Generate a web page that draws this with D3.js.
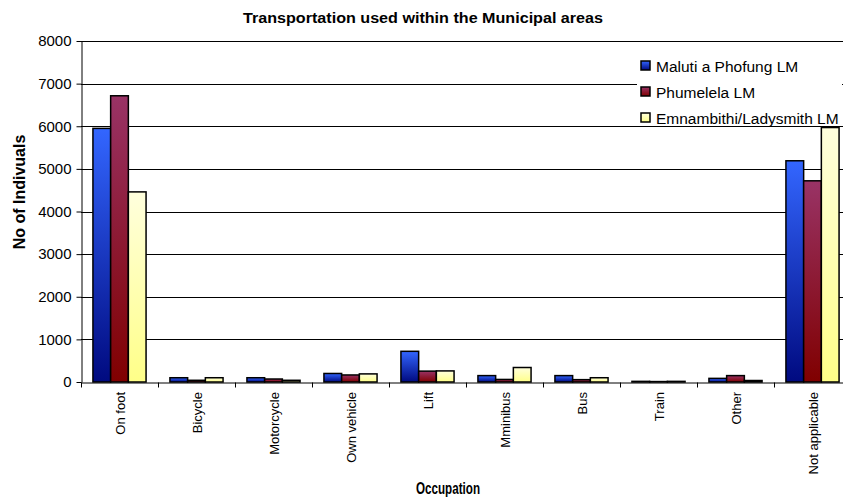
<!DOCTYPE html>
<html>
<head>
<meta charset="utf-8">
<script src="https://cdn.jsdelivr.net/npm/d3@7"></script>
<style>
  html, body { margin: 0; padding: 0; background: #fff; }
  svg { display: block; font-family: Arial, "Liberation Sans", sans-serif; }
</style>
</head>
<body>
<svg id="chart" width="843" height="501"></svg>
<script>
// Modes of transport used within each municipal area
const categories = ["On foot", "Bicycle", "Motorcycle", "Own vehicle", "Lift",
                    "Mminibus", "Bus", "Train", "Other", "Not applicable"];
const seriesNames = ["Maluti a Phofung LM", "Phumelela LM", "Emnambithi/Ladysmith LM"];
const maluti     = [5950, 100, 100, 200, 720, 150, 150, 15, 85, 5190];
const phumelela  = [6715,  40,  70, 165, 255,  60,  55, 10, 150, 4720];
const emnambithi = [4460, 100,  40, 190, 260, 340, 100, 15,  35, 5970];
const yTicks = [0, 1000, 2000, 3000, 4000, 5000, 6000, 7000, 8000];

const seriesValues = [maluti, phumelela, emnambithi];
const gradients = [
  { id: "gBlue",   top: "#3366ff", bottom: "#000a80" },
  { id: "gRed",    top: "#993366", bottom: "#800000" },
  { id: "gYellow", top: "#ffffdd", bottom: "#ffff88" }
];

const svg = d3.select("#chart");
const plotLeft = 81, plotRight = 851, plotTop = 41, plotBottom = 382;

const defs = svg.append("defs");
gradients.forEach(g => {
  const lg = defs.append("linearGradient")
    .attr("id", g.id).attr("x1", 0).attr("y1", 0).attr("x2", 0).attr("y2", 1);
  lg.append("stop").attr("offset", "0%").attr("stop-color", g.top);
  lg.append("stop").attr("offset", "100%").attr("stop-color", g.bottom);
});

const x0 = d3.scaleBand().domain(categories).range([plotLeft, plotRight])
  .paddingInner(0.31).paddingOuter(0.155);
const x1 = d3.scaleBand().domain(d3.range(seriesNames.length)).range([0, x0.bandwidth()]);
const y = d3.scaleLinear().domain([0, 8000]).range([plotBottom, plotTop]);
const xEdges = d3.scaleLinear().domain([0, categories.length]).range([plotLeft, plotRight]);

// horizontal gridlines
svg.append("g").selectAll("line").data(yTicks.filter(t => t > 0)).join("line")
  .attr("x1", plotLeft).attr("x2", plotRight)
  .attr("y1", d => Math.round(y(d)) + 0.5).attr("y2", d => Math.round(y(d)) + 0.5)
  .attr("stroke", "#000").attr("stroke-width", 1);

// bars
const rows = categories.map((c, i) => ({ c, vals: seriesValues.map(s => s[i]) }));
svg.append("g").selectAll("g").data(rows).join("g")
  .attr("transform", d => `translate(${x0(d.c)},0)`)
  .selectAll("rect").data(d => d.vals.map((v, k) => ({ v, k }))).join("rect")
  .attr("x", d => x1(d.k))
  .attr("width", x1.bandwidth())
  .attr("y", d => y(d.v))
  .attr("height", d => plotBottom - y(d.v))
  .attr("fill", d => `url(#${gradients[d.k].id})`)
  .attr("stroke", "#000").attr("stroke-width", 1.5);

// y axis
const yAxis = svg.append("g").attr("transform", `translate(${plotLeft + 0.5},0)`)
  .call(d3.axisLeft(y).tickValues(yTicks).tickSize(5).tickSizeOuter(0).tickFormat(d3.format("d")));
yAxis.select(".domain").attr("stroke", "#000");
yAxis.selectAll(".tick line").attr("stroke", "#000");
yAxis.selectAll(".tick text").attr("font-size", 15).attr("fill", "#000")
  .attr("font-family", "Arial, 'Liberation Sans', sans-serif").attr("x", -10);

// x axis with ticks at category boundaries
const xAxis = svg.append("g").attr("transform", `translate(0,${plotBottom + 0.5})`)
  .call(d3.axisBottom(xEdges).tickValues(d3.range(categories.length + 1))
    .tickSize(5).tickSizeOuter(0).tickFormat(""));
xAxis.select(".domain").attr("stroke", "#000");
xAxis.selectAll(".tick line").attr("stroke", "#000");

// category labels, rotated
svg.append("g").selectAll("text").data(categories).join("text")
  .attr("transform", d => `translate(${x0(d) + x0.bandwidth() / 2 + 5},392) rotate(-90)`)
  .attr("text-anchor", "end")
  .attr("font-size", 13).attr("fill", "#000")
  .text(d => d);

// titles
svg.append("text").attr("x", 423).attr("y", 23).attr("text-anchor", "middle")
  .attr("font-size", 14).attr("font-weight", "bold")
  .attr("textLength", 360).attr("lengthAdjust", "spacingAndGlyphs")
  .text("Transportation used within the Municipal areas");
svg.append("text").attr("x", 448).attr("y", 494).attr("text-anchor", "middle")
  .attr("font-size", 16).attr("font-weight", "bold")
  .attr("textLength", 64).attr("lengthAdjust", "spacingAndGlyphs")
  .text("Occupation");
svg.append("text").attr("transform", `translate(25,192) rotate(-90)`)
  .attr("text-anchor", "middle")
  .attr("font-size", 16).attr("font-weight", "bold").text("No of Indivuals");

// legend
const legend = svg.append("g");
legend.append("rect").attr("x", 637).attr("y", 53).attr("width", 205).attr("height", 73).attr("fill", "#fff");
const items = legend.selectAll("g").data(seriesNames).join("g")
  .attr("transform", (d, i) => `translate(641,${61 + i * 26})`);
items.append("rect").attr("width", 9).attr("height", 9)
  .attr("fill", (d, i) => `url(#${gradients[i].id})`)
  .attr("stroke", "#000").attr("stroke-width", 1.5);
items.append("text").attr("x", 15).attr("y", 5).attr("dy", "0.36em")
  .attr("font-size", 15.5).attr("fill", "#000").text(d => d);
</script>
</body>
</html>
